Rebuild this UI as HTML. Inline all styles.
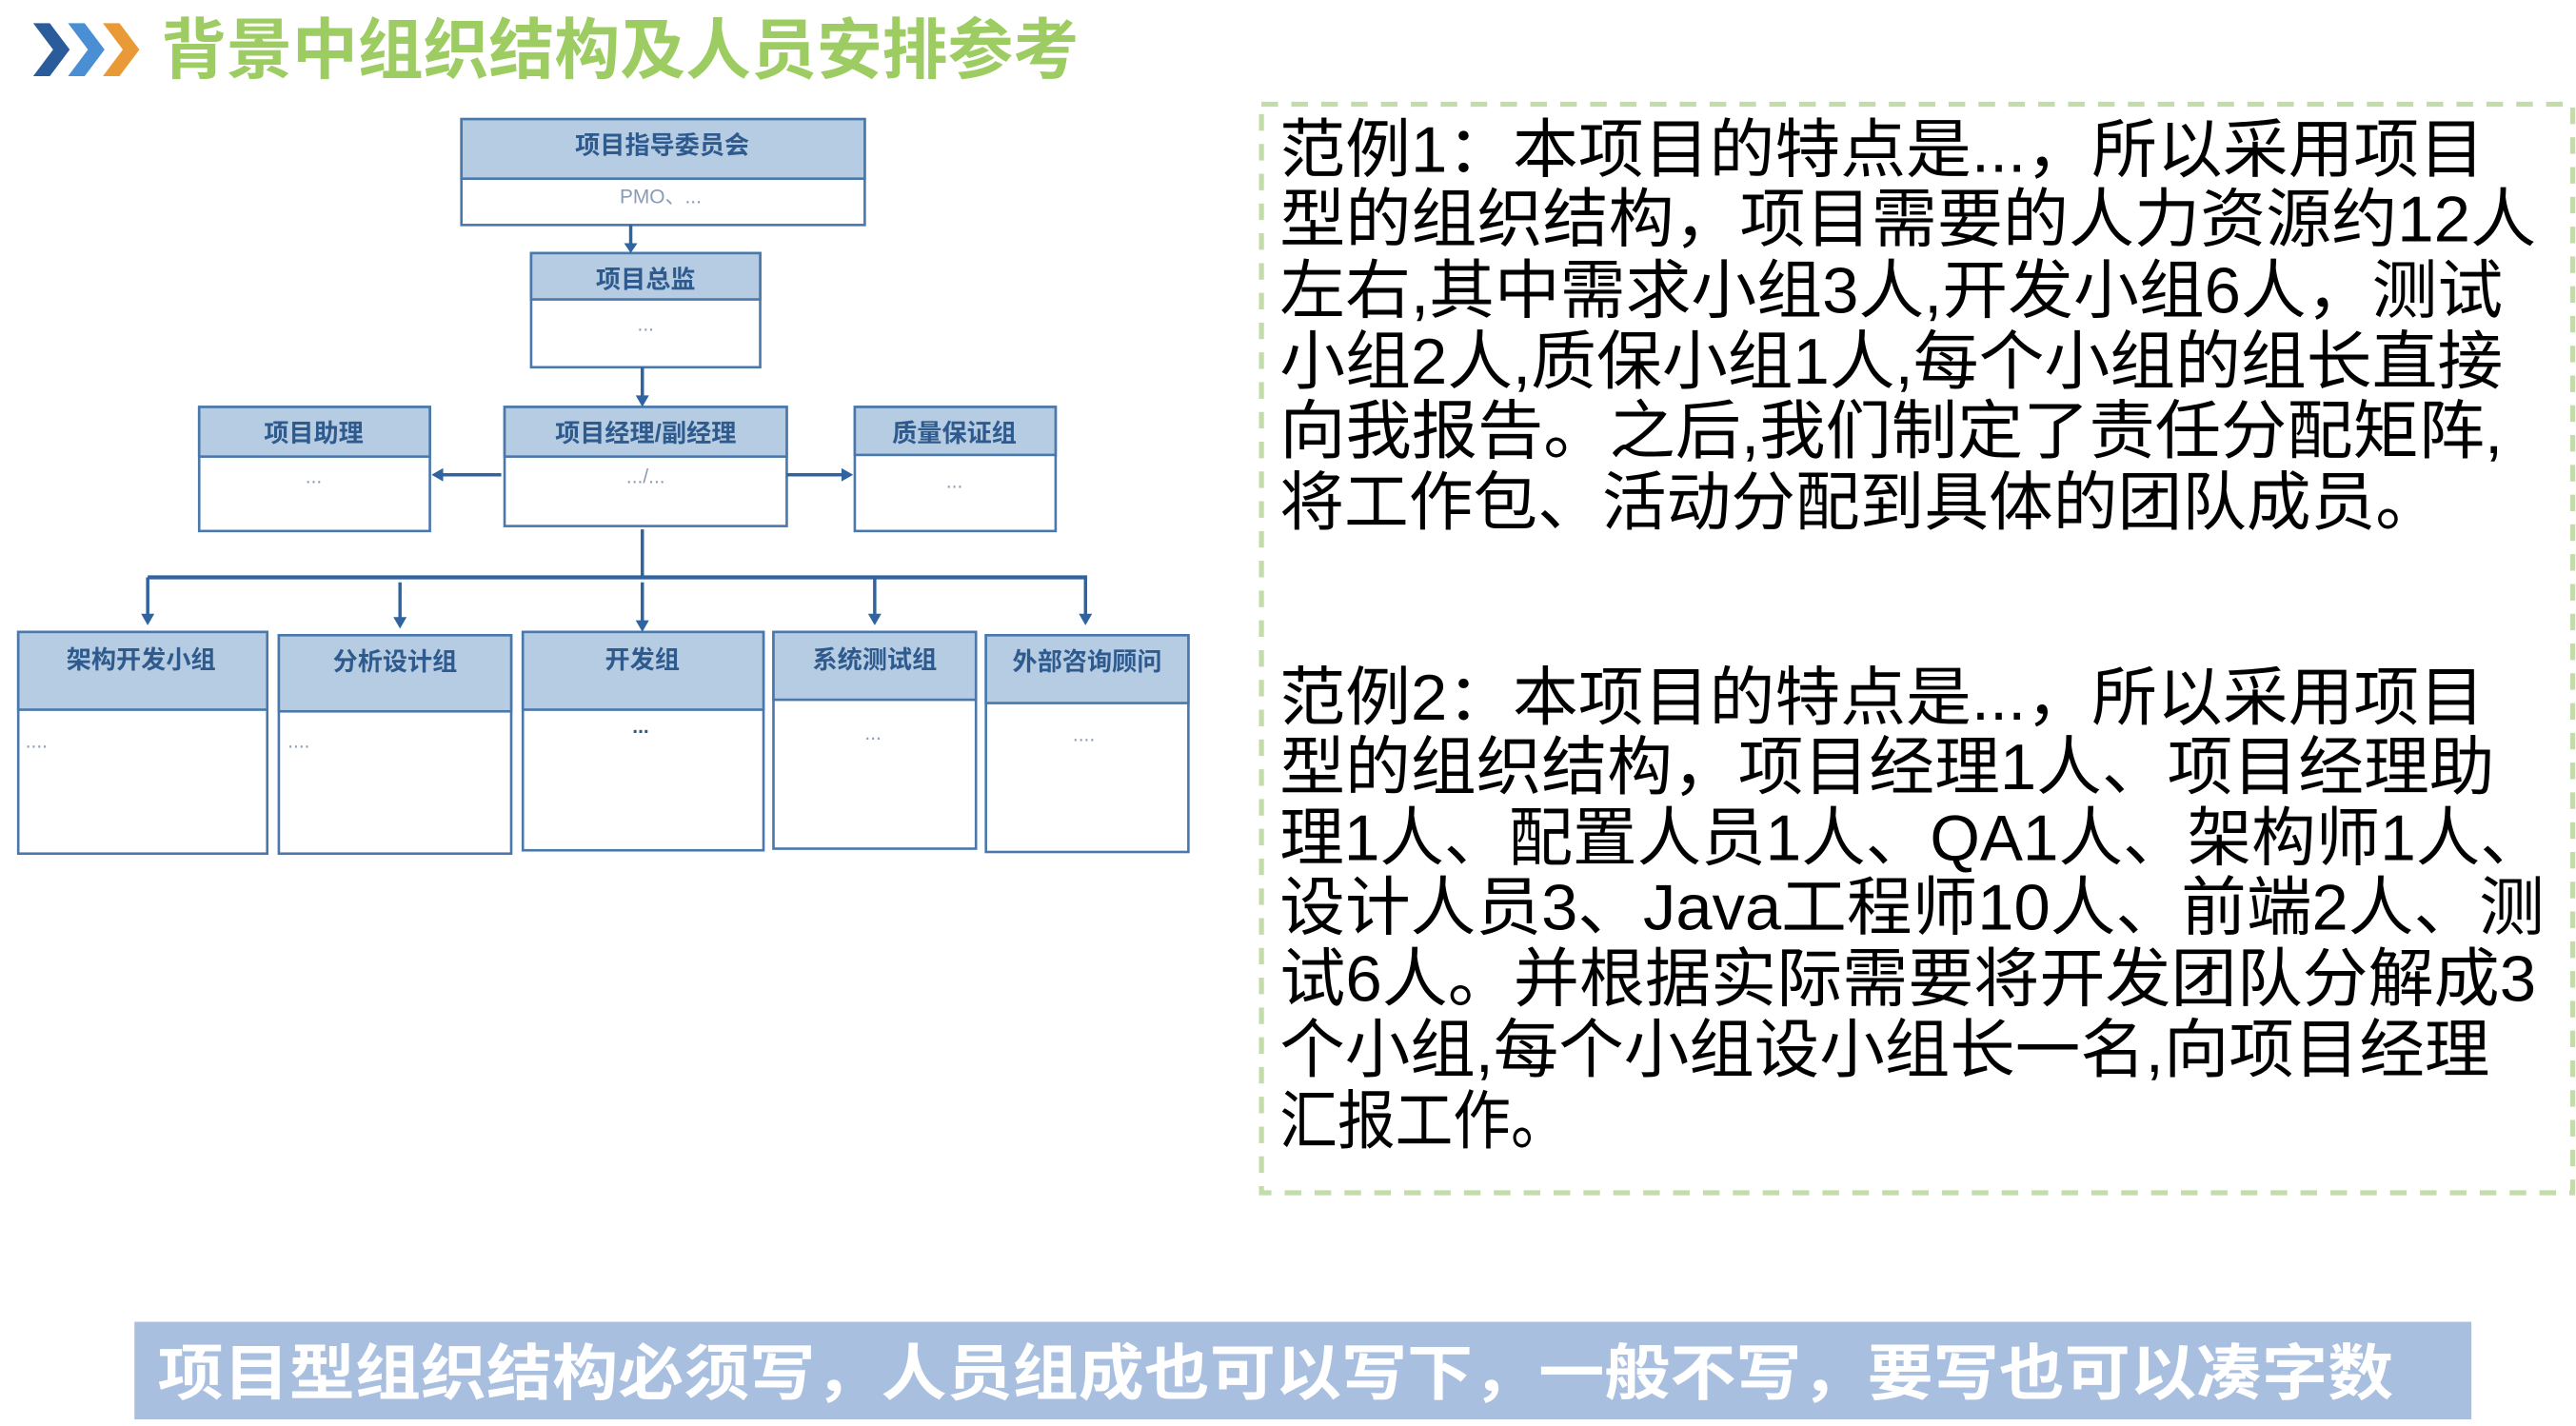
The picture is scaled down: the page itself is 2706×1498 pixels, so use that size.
<!DOCTYPE html>
<html><head><meta charset="utf-8"><style>
html,body{margin:0;padding:0;background:#fff;}
svg{display:block;}
text{font-family:"Liberation Sans","Noto Sans CJK SC",sans-serif;}
</style></head><body>
<svg width="2706" height="1498" viewBox="0 0 1552 862" preserveAspectRatio="none" xmlns="http://www.w3.org/2000/svg">
<rect x="0" y="0" width="1552" height="862" fill="#fff"/>
<!-- chevrons -->
<polygon points="20,14 30,14 42,30 30,46 20,46 32,30" fill="#2a5b9b"/>
<polygon points="41,14 51,14 63,30 51,46 41,46 53,30" fill="#4a8fd4"/>
<polygon points="62,14 72,14 84,30 72,46 62,46 74,30" fill="#e99a36"/>
<text x="97" y="44" font-size="40" font-weight="bold" fill="#9ccc62" textLength="553" lengthAdjust="spacingAndGlyphs">背景中组织结构及人员安排参考</text>

<g stroke="#4a78ab" stroke-width="1.5" fill="#fff">
<!-- top -->
<rect x="278" y="72" width="243" height="64"/>
<rect x="278" y="72" width="243" height="36" fill="#b6cce2"/>
<rect x="320" y="153" width="138" height="69"/>
<rect x="320" y="153" width="138" height="28" fill="#b6cce2"/>
<rect x="120" y="246" width="139" height="75"/>
<rect x="120" y="246" width="139" height="30" fill="#b6cce2"/>
<rect x="304" y="246" width="170" height="72"/>
<rect x="304" y="246" width="170" height="30" fill="#b6cce2"/>
<rect x="515" y="246" width="121" height="75"/>
<rect x="515" y="246" width="121" height="29" fill="#b6cce2"/>

<rect x="11" y="382" width="150" height="134"/>
<rect x="11" y="382" width="150" height="47" fill="#b6cce2"/>
<rect x="168" y="384" width="140" height="132"/>
<rect x="168" y="384" width="140" height="46" fill="#b6cce2"/>
<rect x="315" y="382" width="145" height="132"/>
<rect x="315" y="382" width="145" height="47" fill="#b6cce2"/>
<rect x="466" y="382" width="122" height="131"/>
<rect x="466" y="382" width="122" height="41" fill="#b6cce2"/>
<rect x="594" y="384" width="122" height="131"/>
<rect x="594" y="384" width="122" height="41" fill="#b6cce2"/>
</g>
<g stroke="#2f64a0" stroke-width="2" fill="none">
<line x1="380" y1="136" x2="380" y2="148"/>
<line x1="387" y1="222" x2="387" y2="240"/>
<line x1="302" y1="287" x2="266" y2="287"/>
<line x1="474" y1="287" x2="508" y2="287"/>
<line x1="387" y1="320" x2="387" y2="349"/>
<line x1="89" y1="349" x2="655" y2="349" stroke-width="2.5"/>
<line x1="89" y1="349" x2="89" y2="372"/>
<line x1="241" y1="352" x2="241" y2="374"/>
<line x1="387" y1="352" x2="387" y2="376"/>
<line x1="527" y1="349" x2="527" y2="372"/>
<line x1="654" y1="349" x2="654" y2="372"/>
</g>
<g fill="#2f64a0">
<polygon points="376,147 384,147 380,153"/>
<polygon points="383,239 391,239 387,246"/>
<polygon points="267,283 267,291 260,287"/>
<polygon points="507,283 507,291 514,287"/>
<polygon points="85,371 93,371 89,378"/>
<polygon points="237,373 245,373 241,380"/>
<polygon points="383,375 391,375 387,382"/>
<polygon points="523,371 531,371 527,378"/>
<polygon points="650,371 658,371 654,378"/>
</g>
<g font-size="15" font-weight="bold" fill="#2e5a8e" text-anchor="middle">
<text x="399" y="93">项目指导委员会</text>
<text x="389" y="174">项目总监</text>
<text x="189" y="267">项目助理</text>
<text x="389" y="267">项目经理/副经理</text>
<text x="575" y="267">质量保证组</text>
<text x="85" y="404">架构开发小组</text>
<text x="238" y="405">分析设计组</text>
<text x="387" y="404">开发组</text>
<text x="527" y="404">系统测试组</text>
<text x="655" y="405">外部咨询顾问</text>
</g>
<g font-size="12" fill="#8a9bb5" text-anchor="middle">
<text x="398" y="123">PMO、...</text>
<text x="389" y="200">...</text>
<text x="189" y="292">...</text>
<text x="389" y="292">.../...</text>
<text x="575" y="295">...</text>
<text x="22" y="452">....</text>
<text x="180" y="452">....</text>
<text x="386" y="443" font-weight="bold" fill="#2e5a8e">...</text>
<text x="526" y="447">...</text>
<text x="653" y="448">....</text>
</g>

<rect x="760" y="63" width="790" height="658" fill="none" stroke="#c2dcaa" stroke-width="3" stroke-dasharray="10,8"/>
<g font-size="39" fill="#000">
<text x="771" y="104" textLength="726" lengthAdjust="spacingAndGlyphs">范例1：本项目的特点是...，所以采用项目</text>
<text x="771" y="146" textLength="757" lengthAdjust="spacingAndGlyphs">型的组织结构，项目需要的人力资源约12人</text>
<text x="771" y="189" textLength="737" lengthAdjust="spacingAndGlyphs">左右,其中需求小组3人,开发小组6人，测试</text>
<text x="771" y="232" textLength="737" lengthAdjust="spacingAndGlyphs">小组2人,质保小组1人,每个小组的组长直接</text>
<text x="771" y="274" textLength="737" lengthAdjust="spacingAndGlyphs">向我报告。之后,我们制定了责任分配矩阵,</text>
<text x="771" y="317" textLength="699" lengthAdjust="spacingAndGlyphs">将工作包、活动分配到具体的团队成员。</text>

<text x="771" y="435" textLength="726" lengthAdjust="spacingAndGlyphs">范例2：本项目的特点是...，所以采用项目</text>
<text x="771" y="477" textLength="732" lengthAdjust="spacingAndGlyphs">型的组织结构，项目经理1人、项目经理助</text>
<text x="771" y="520" textLength="762" lengthAdjust="spacingAndGlyphs">理1人、配置人员1人、QA1人、架构师1人、</text>
<text x="771" y="562" textLength="762" lengthAdjust="spacingAndGlyphs">设计人员3、Java工程师10人、前端2人、测</text>
<text x="771" y="605" textLength="757" lengthAdjust="spacingAndGlyphs">试6人。并根据实际需要将开发团队分解成3</text>
<text x="771" y="648" textLength="729" lengthAdjust="spacingAndGlyphs">个小组,每个小组设小组长一名,向项目经理</text>
<text x="771" y="691" textLength="174" lengthAdjust="spacingAndGlyphs">汇报工作。</text>
</g>

<rect x="81" y="799" width="1408" height="59" fill="#a9bfe0"/>
<text x="95" y="843" font-size="37" font-weight="bold" fill="#fff" textLength="1347" lengthAdjust="spacingAndGlyphs">项目型组织结构必须写，人员组成也可以写下，一般不写，要写也可以凑字数</text>
</svg>
</body></html>
